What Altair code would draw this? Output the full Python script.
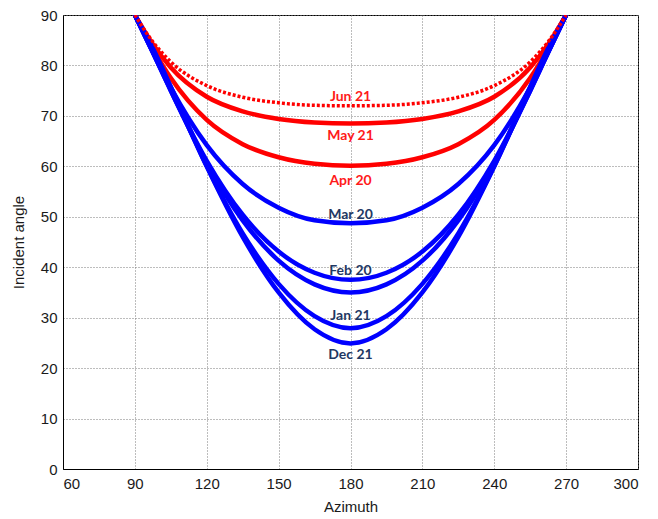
import altair as alt
import pandas as pd

# Azimuth positions (degrees) at which each curve is sampled
azimuth = [90, 97.5, 105, 120, 135, 150, 165, 180, 195, 210, 225, 240, 255, 262.5, 270]

# Incident angle (degrees) for each date
jun_21 = [90, 84.7, 80.7, 76.0, 73.7, 72.6, 72.1, 72.0, 72.1, 72.6, 73.7, 76.0, 80.7, 84.7, 90]
may_21 = [90, 84.2, 79.6, 73.8, 70.9, 69.4, 68.7, 68.5, 68.7, 69.4, 70.9, 73.8, 79.6, 84.2, 90]
apr_20 = [90, 83.3, 77.5, 69.2, 64.4, 61.8, 60.5, 60.1, 60.5, 61.8, 64.4, 69.2, 77.5, 83.3, 90]
mar_20 = [90, 82.6, 75.6, 64.2, 56.5, 51.8, 49.3, 48.7, 49.3, 51.8, 56.5, 64.2, 75.6, 82.6, 90]
feb_20 = [90, 82.6, 75.0, 61.1, 50.4, 43.1, 38.9, 37.5, 38.9, 43.1, 50.4, 61.1, 75.0, 82.6, 90]
feb_late = [90, 82.6, 75.0, 60.7, 49.3, 41.3, 36.6, 35.0, 36.6, 41.3, 49.3, 60.7, 75.0, 82.6, 90]
jan_21 = [90, 83.1, 75.5, 60.0, 46.7, 36.7, 30.3, 27.9, 30.3, 36.7, 46.7, 60.0, 75.5, 83.1, 90]
dec_21 = [90, 83.4, 75.8, 60.0, 46.0, 35.0, 27.7, 24.9, 27.7, 35.0, 46.0, 60.0, 75.8, 83.4, 90]

curve_names = ["Jun 21", "May 21", "Apr 20", "Mar 20", "Feb 20", "Feb late", "Jan 21", "Dec 21"]
curve_values = [jun_21, may_21, apr_20, mar_20, feb_20, feb_late, jan_21, dec_21]
curve_colors = ["#ff0000", "#ff0000", "#ff0000", "#0000ff", "#0000ff", "#0000ff", "#0000ff", "#0000ff"]

# Curve labels placed at the bottom of each U
label_text = ["Jun 21", "May 21", "Apr 20", "Mar 20", "Feb 20", "Jan 21", "Dec 21"]
label_az = [180, 180, 180, 180, 180, 180, 180]
label_angle = [73.8, 66.0, 57.1, 50.4, 39.3, 30.3, 22.6]
label_colors = ["#ff1a1a", "#ff1a1a", "#ff1a1a", "#1f3864", "#1f3864", "#1f3864", "#1f3864"]

x_ticks = [60, 90, 120, 150, 180, 210, 240, 270, 300]
y_ticks = [0, 10, 20, 30, 40, 50, 60, 70, 80, 90]

rows = []
for name, vals, col in zip(curve_names, curve_values, curve_colors):
    for order, (a, v) in enumerate(zip(azimuth, vals)):
        rows.append({"curve": name, "az": a, "angle": v, "color": col, "order": order})
curves = pd.DataFrame(rows)

labels = pd.DataFrame({"text": label_text, "az": label_az, "angle": label_angle, "color": label_colors})

x_scale = alt.Scale(domain=[60, 300], nice=False, zero=False)
y_scale = alt.Scale(domain=[0, 90], nice=False)

x_enc = alt.X("az:Q", scale=x_scale, title="Azimuth",
              axis=alt.Axis(values=x_ticks, format="d"))
y_enc = alt.Y("angle:Q", scale=y_scale, title="Incident angle",
              axis=alt.Axis(values=y_ticks, format="d"))

solid = alt.Chart(curves).transform_filter(
    alt.datum.curve != "Jun 21"
).mark_line(strokeWidth=4.5, interpolate="monotone", clip=True).encode(
    x=x_enc, y=y_enc,
    detail="curve:N",
    order="order:Q",
    color=alt.Color("color:N", scale=None),
)

dotted = alt.Chart(curves).transform_filter(
    alt.datum.curve == "Jun 21"
).mark_line(strokeWidth=3.5, interpolate="monotone", clip=True, strokeDash=[3, 2]).encode(
    x=x_enc, y=y_enc,
    detail="curve:N",
    order="order:Q",
    color=alt.Color("color:N", scale=None),
)

text = alt.Chart(labels).mark_text(
    font="Lato", fontSize=14, fontWeight="bold", align="center", baseline="middle"
).encode(
    x=alt.X("az:Q", scale=x_scale),
    y=alt.Y("angle:Q", scale=y_scale),
    text="text:N",
    color=alt.Color("color:N", scale=None),
)

chart = alt.layer(solid, dotted, text).properties(
    width=575,
    height=454,
    autosize=alt.AutoSizeParams(type="none"),
    padding={"left": 63, "top": 15, "right": 20, "bottom": 50},
).configure_view(
    stroke="black", strokeWidth=1
).configure_axis(
    grid=True,
    gridColor="#7a7a7a",
    gridDash=[1, 2],
    gridWidth=1,
    domainColor="black",
    ticks=False,
    labelFont="Liberation Sans",
    labelFontSize=15,
    labelColor="#1a1a1a",
    titleFont="Liberation Sans",
    titleFontSize=15,
    titleFontWeight="normal",
    titleColor="#1a1a1a",
).configure_axisX(
    labelPadding=7,
    titlePadding=8,
).configure_axisY(
    labelPadding=6,
    titlePadding=14,
)

chart.save("out.html", embed_options={"renderer": "svg", "actions": False})
